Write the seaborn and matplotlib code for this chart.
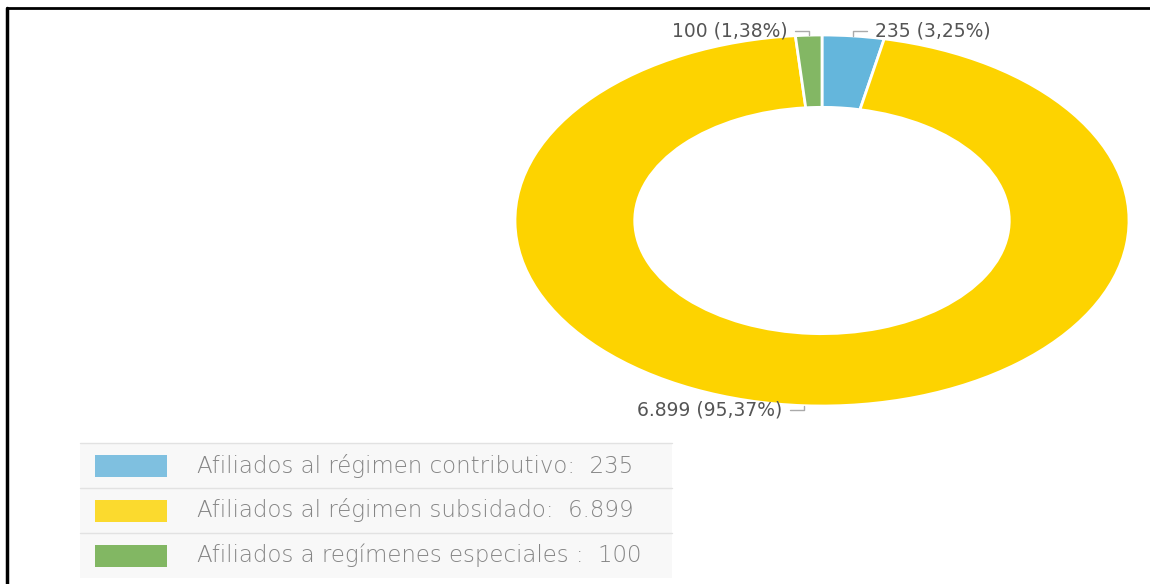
import numpy as np
import matplotlib
matplotlib.use("Agg")
import matplotlib.pyplot as plt
from matplotlib.patches import Rectangle
from matplotlib.lines import Line2D
import seaborn as sns

sns.set_style("white")
plt.rcParams['font.family'] = ['DejaVu Sans']

# datos
categorias = ["Afiliados al régimen contributivo", "Afiliados al régimen subsidado", "Afiliados a regímenes especiales "]
valores = [235, 6899, 100]
etiquetas = ["235 (3,25%)", "6.899 (95,37%)", "100 (1,38%)"]
leyenda_valores = ["235", "6.899", "100"]
colores_pie = ["#64b6dc", "#fdd300", "#83b764"]
colores_ley = ["#7fc0e0", "#fbda2e", "#82b763"]

W, H = 1150, 584
fig = plt.figure(figsize=(W / 100, H / 100), dpi=100)

# dona (elíptica, ejes sin aspecto fijo)
ax = fig.add_axes([515 / W, (H - 406) / H, 614 / W, 371 / H])
wedges, _ = ax.pie(valores, colors=colores_pie, startangle=90, counterclock=False,
                   radius=1, wedgeprops=dict(width=0.39, edgecolor="white", linewidth=2))
ax.set_xlim(-1, 1)
ax.set_ylim(-1, 1)
ax.set_aspect("auto")
ax.axis("off")

# etiquetas con línea guía
for w, txt in zip(wedges, etiquetas):
    th = np.deg2rad((w.theta1 + w.theta2) / 2)
    px, py = np.cos(th), np.sin(th)
    sy = np.sign(py)
    sx = 1 if px >= 0 else -1
    ey = py + sy * 0.025
    ex = px + sx * 0.045
    ax.plot([px, px, ex], [py, ey, ey], color="#aaaaaa", lw=1, clip_on=False)
    ax.text(ex + sx * 0.025, ey, txt, ha="left" if sx > 0 else "right", va="center",
            fontsize=13.5, color="#555555", clip_on=False)

# leyenda en forma de tabla
x0, x1 = 80, 672
fila_top = [443, 488, 533]
fila_h = 45
for i, (cat, val) in enumerate(zip(categorias, leyenda_valores)):
    top = fila_top[i]
    fig.patches.append(Rectangle((x0 / W, (H - top - fila_h) / H), (x1 - x0) / W, fila_h / H,
                                 transform=fig.transFigure, facecolor="#f8f8f8",
                                 edgecolor="none", zorder=0))
    fig.lines.append(Line2D([x0 / W, x1 / W], [(H - top) / H] * 2, transform=fig.transFigure,
                            color="#e2e2e2", lw=1))
    cy = top + fila_h / 2
    fig.patches.append(Rectangle((95 / W, (H - cy - 11) / H), 72 / W, 22 / H,
                                 transform=fig.transFigure, facecolor=colores_ley[i],
                                 edgecolor="none"))
    fig.text(197 / W, (H - cy) / H, f"{cat}:  {val}", ha="left", va="center",
             fontsize=16.5, color="#858585", fontweight="light")

# marco
fig.lines.append(Line2D([7 / W, 1], [(H - 8) / H] * 2, transform=fig.transFigure, color="black", lw=2))
fig.lines.append(Line2D([7 / W, 7 / W], [0, (H - 8) / H], transform=fig.transFigure, color="black", lw=2.5))

fig.savefig("out.png", dpi=100, facecolor="white")
